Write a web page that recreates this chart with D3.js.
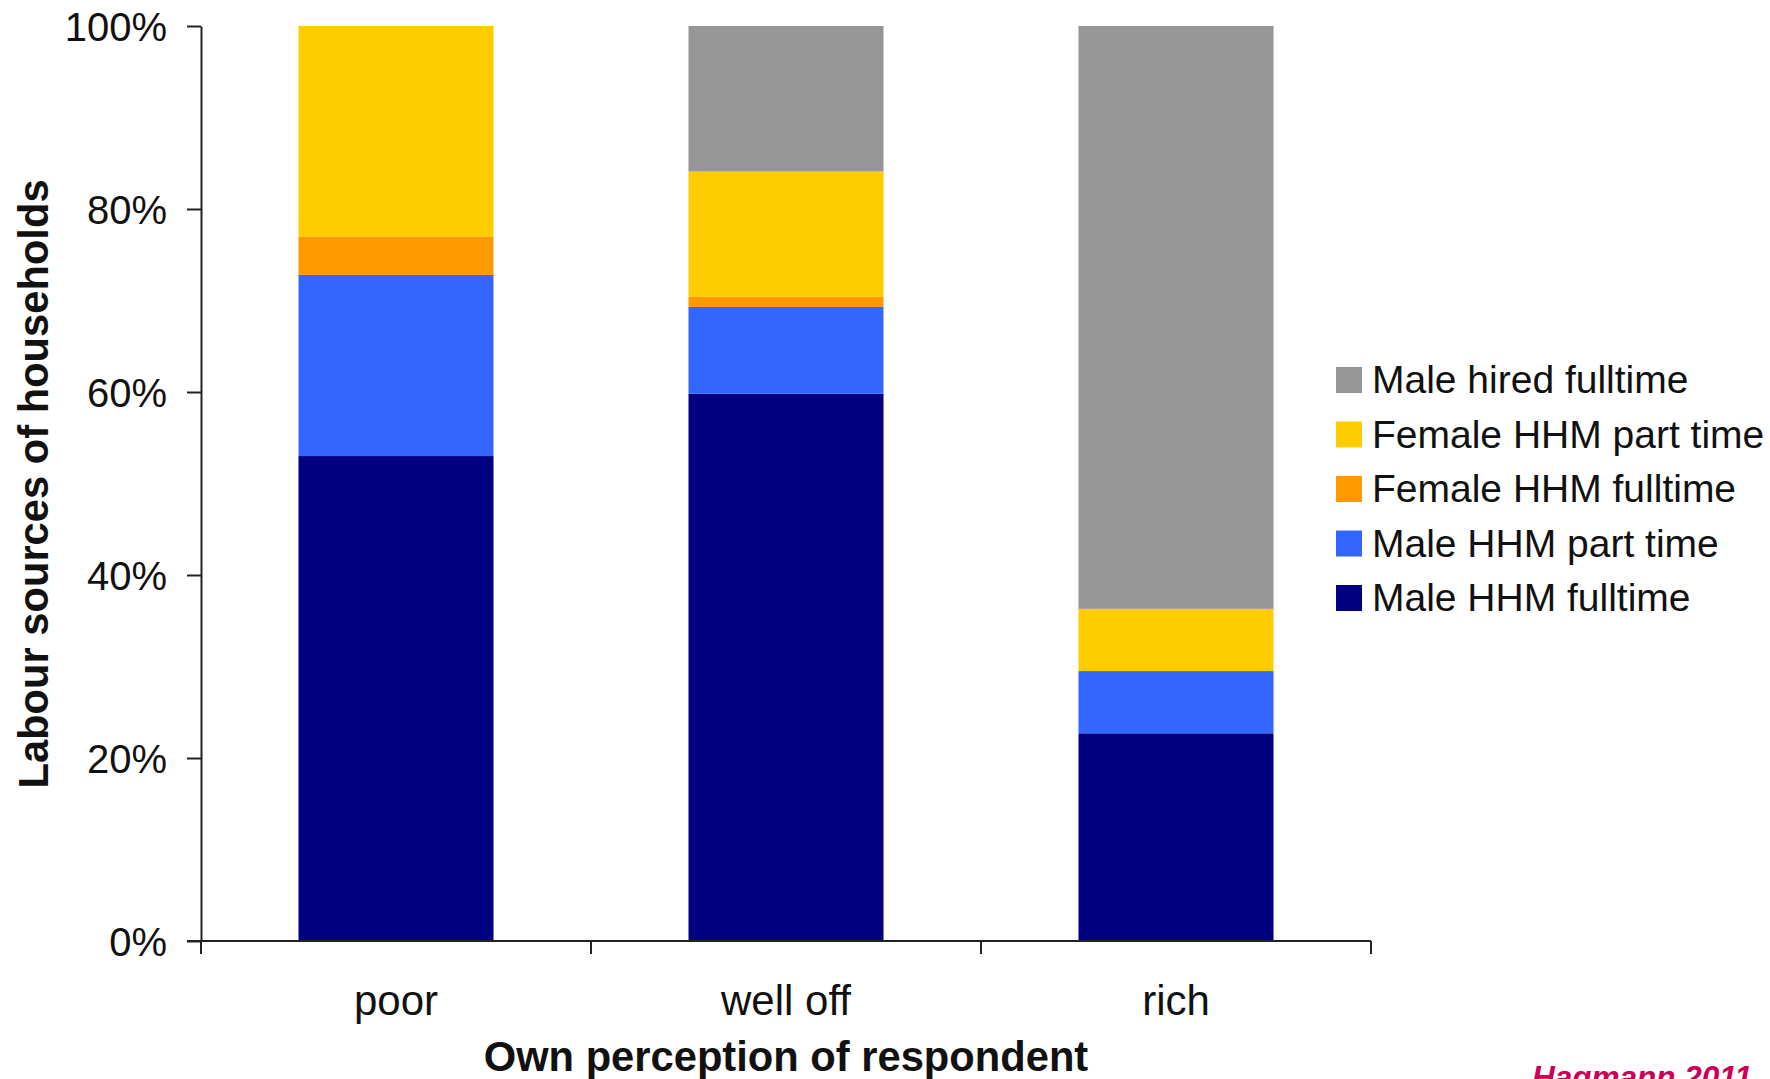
<!DOCTYPE html>
<html><head><meta charset="utf-8">
<script src="https://cdn.jsdelivr.net/npm/d3@7"></script>
<style>html,body{margin:0;padding:0;background:#fff;}svg{display:block;font-family:"Liberation Sans",Arial,sans-serif;}</style>
</head><body>
<script>
const categories = ["poor", "well off", "rich"];
const seriesNames = ["Male HHM fulltime", "Male HHM part time", "Female HHM fulltime", "Female HHM part time", "Male hired fulltime"];
const maleHHMFull = [53.0, 59.8, 22.7];
const maleHHMPart = [19.8, 9.5, 6.8];
const femaleHHMFull = [4.2, 1.1, 0.0];
const femaleHHMPart = [23.0, 13.7, 6.8];
const maleHiredFull = [0.0, 15.9, 63.7];
const yTicks = [0, 20, 40, 60, 80, 100];
const colors = ["#000080", "#3366FF", "#FF9900", "#FFCC00", "#969696"];
const legendOrder = ["Male hired fulltime", "Female HHM part time", "Female HHM fulltime", "Male HHM part time", "Male HHM fulltime"];
const xTitle = "Own perception of respondent";
const yTitle = "Labour sources of households";
const sourceText = "Hagmann 2011";

const W = 1770, H = 1079;
const svg = d3.select("body").append("svg").attr("width", W).attr("height", H);

const table = categories.map((c, i) => ({
  cat: c,
  "Male HHM fulltime": maleHHMFull[i],
  "Male HHM part time": maleHHMPart[i],
  "Female HHM fulltime": femaleHHMFull[i],
  "Female HHM part time": femaleHHMPart[i],
  "Male hired fulltime": maleHiredFull[i]
}));
const stacked = d3.stack().keys(seriesNames)(table);

const x0 = 201, x1 = 1371, yTop = 26, yBot = 941;
const x = d3.scaleBand().domain(categories).range([x0, x1]).paddingInner(0.5).paddingOuter(0.25);
const y = d3.scaleLinear().domain([0, 100]).range([yBot, yTop]);
const color = d3.scaleOrdinal().domain(seriesNames).range(colors);

// bars
svg.append("g").selectAll("g").data(stacked).join("g")
  .attr("fill", d => color(d.key))
  .selectAll("rect").data(d => d).join("rect")
  .attr("x", d => x(d.data.cat))
  .attr("width", x.bandwidth())
  .attr("y", d => y(d[1]))
  .attr("height", d => Math.max(0, y(d[0]) - y(d[1])));

// y axis
const yAxis = svg.append("g").attr("transform", `translate(${x0},0)`)
  .call(d3.axisLeft(y).tickValues(yTicks).tickFormat(d => d + "%").tickSize(14).tickSizeOuter(0));
yAxis.select(".domain").attr("stroke", "#222").attr("stroke-width", 2);
yAxis.selectAll(".tick line").attr("stroke", "#222").attr("stroke-width", 2);
yAxis.selectAll(".tick text").attr("font-size", 40).attr("fill", "#111").attr("x", -34).attr("dy", "0.36em")
  .attr("font-family", "Liberation Sans, Arial, sans-serif");

// x axis: line + boundary ticks
const xAxisG = svg.append("g");
xAxisG.append("line").attr("x1", x0 - 14).attr("x2", x1).attr("y1", yBot).attr("y2", yBot)
  .attr("stroke", "#222").attr("stroke-width", 2);
const bounds = d3.range(categories.length + 1).map(i => x0 + i * (x1 - x0) / categories.length);
xAxisG.selectAll("line.tk").data(bounds).join("line").attr("class", "tk")
  .attr("x1", d => d).attr("x2", d => d).attr("y1", yBot).attr("y2", yBot + 13)
  .attr("stroke", "#222").attr("stroke-width", 2);
xAxisG.selectAll("text").data(categories).join("text")
  .attr("x", d => x(d) + x.bandwidth() / 2).attr("y", 1015)
  .attr("text-anchor", "middle").attr("font-size", 42).attr("fill", "#111").text(d => d);

// titles
svg.append("text").attr("x", (x0 + x1) / 2).attr("y", 1071).attr("text-anchor", "middle")
  .attr("font-size", 41.7).attr("font-weight", "bold").attr("fill", "#111").text(xTitle);
svg.append("text").attr("transform", "translate(48,484) rotate(-90)").attr("text-anchor", "middle")
  .attr("font-size", 41.7).attr("font-weight", "bold").attr("fill", "#111").text(yTitle);

// legend
const lg = svg.append("g").attr("transform", "translate(1336,380)");
const rows = lg.selectAll("g").data(legendOrder).join("g")
  .attr("transform", (d, i) => `translate(0,${i * 54.5})`);
rows.append("rect").attr("x", 0).attr("y", -13).attr("width", 26).attr("height", 26)
  .attr("fill", d => color(d));
rows.append("text").attr("x", 36).attr("y", 13).attr("font-size", 39).attr("fill", "#111").text(d => d);

// source
svg.append("text").attr("x", 1532).attr("y", 1088).attr("font-size", 31.5).attr("font-weight", "bold")
  .attr("font-style", "italic").attr("fill", "#CC0055").text(sourceText);
</script>
</body></html>
